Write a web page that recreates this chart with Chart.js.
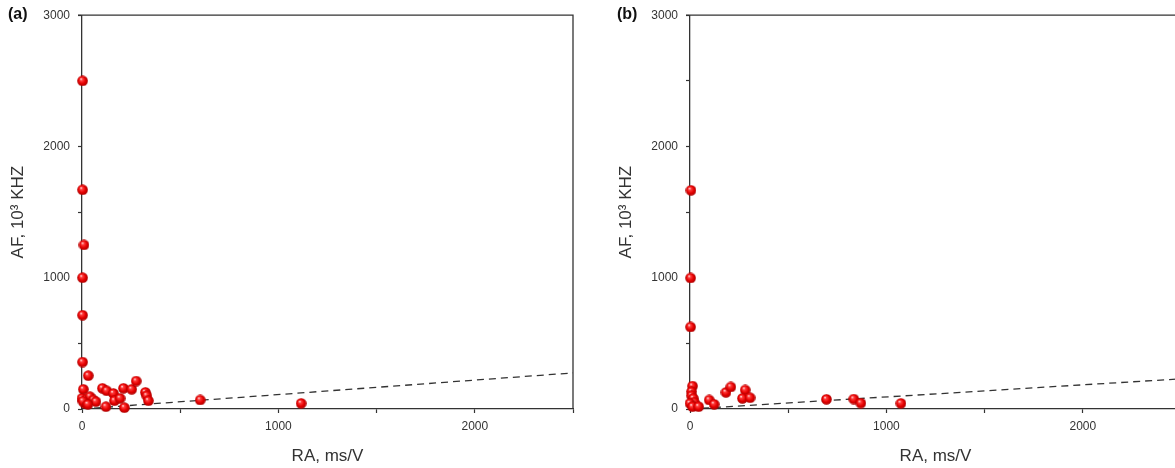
<!DOCTYPE html>
<html>
<head>
<meta charset="utf-8">
<script src="https://cdn.jsdelivr.net/npm/chart.js@4"></script>
<style>
  html, body { margin: 0; padding: 0; background: #fff; overflow: hidden; width: 1175px; height: 468px; }
  .panel { position: absolute; top: 0; width: 600px; height: 468px; }
  .tag { position: absolute; top: 5px; font: bold 16px Arial, "Liberation Sans", sans-serif; color: #111; }
</style>
</head>
<body>
<div class="panel" style="left:0px"><canvas id="chartA" width="600" height="468"></canvas></div>
<div class="panel" style="left:608px"><canvas id="chartB" width="600" height="468"></canvas></div>
<span class="tag" style="left:8px">(a)</span>
<span class="tag" style="left:617px">(b)</span>
<script>
// panel (a) points
const raA = [3, 3, 10, 3, 3, 3, 32, 7, 104, 126, 160, 211, 253, 276, 323, 330, 338, 122, 216, 165, 194, 602, 1116, 0, 24, 41, 58, 71, 15, 5, 30];
const afA = [2500, 1670, 1250, 1000, 715, 358, 254, 150, 158, 139, 119, 158, 150, 213, 127, 101, 63, 18, 10, 63, 81, 69, 43, 81, 74, 94, 69, 56, 43, 60, 35];

// panel (b) points
const raB = [5, 3, 3, 13, 8, 8, 17, 22, 0, 13, 44, 98, 123, 183, 208, 281, 267, 306, 695, 834, 870, 1074];
const afB = [1666, 998, 625, 175, 132, 101, 81, 51, 43, 18, 18, 69, 36, 127, 168, 145, 81, 86, 74, 76, 45, 43];

// dashed fit lines (two end points each)
const fitXA = [0, 2500];
const fitYA = [0, 275];
const fitXB = [0, 2500];
const fitYB = [0, 230];

const axisTicks = [0, 500, 1000, 1500, 2000, 2500, 3000];

const fontName = 'Arial, "Liberation Sans", sans-serif';
const axisColor = '#333';

// red ball used as the point style
function makeBall() {
  const c = document.createElement('canvas');
  c.width = 11; c.height = 11;
  const g = c.getContext('2d');
  const grad = g.createRadialGradient(4, 3.6, 0.3, 5.5, 5.5, 5.6);
  grad.addColorStop(0, '#ffe0e0');
  grad.addColorStop(0.2, '#ff4040');
  grad.addColorStop(0.6, '#e60000');
  grad.addColorStop(1, '#a30000');
  g.fillStyle = grad;
  g.beginPath();
  g.arc(5.5, 5.5, 5.3, 0, Math.PI * 2);
  g.fill();
  return c;
}
const ball = makeBall();

// top and right frame lines
const framePlugin = {
  id: 'frame',
  afterDraw(chart) {
    const a = chart.chartArea;
    const ctx = chart.ctx;
    ctx.save();
    ctx.strokeStyle = axisColor;
    ctx.lineWidth = 1.3;
    ctx.beginPath();
    ctx.moveTo(a.left - 4, a.top);
    ctx.lineTo(a.right, a.top);
    ctx.lineTo(a.right, a.bottom);
    ctx.stroke();
    ctx.restore();
  }
};

function makePanel(id, ra, af, fitX, fitY) {
  const pts = ra.map((x, i) => ({x: x, y: af[i]}));
  const fit = fitX.map((x, i) => ({x: x, y: fitY[i]}));
  return new Chart(document.getElementById(id), {
    type: 'scatter',
    data: {
      datasets: [
        {
          data: pts,
          pointStyle: ball,
          pointRadius: 5,
          clip: false,
          order: 0
        },
        {
          type: 'line',
          data: fit,
          borderColor: '#333',
          borderWidth: 1.3,
          borderDash: [7, 5],
          pointRadius: 0,
          fill: false,
          order: 1
        }
      ]
    },
    options: {
      responsive: false,
      animation: false,
      layout: { padding: { left: 0, right: 27, top: 15, bottom: 0 } },
      plugins: { legend: { display: false }, tooltip: { enabled: false } },
      scales: {
        x: {
          type: 'linear',
          min: 0,
          max: 2500,
          afterFit(scale) { scale.height = 59; },
          afterBuildTicks(scale) { scale.ticks = axisTicks.filter(v => v <= 2500).map(v => ({value: v})); },
          grid: { display: true, drawOnChartArea: false, drawTicks: true, tickLength: 4, tickColor: axisColor, tickWidth: 1.2 },
          border: { display: true, color: axisColor, width: 1.3 },
          ticks: {
            padding: 6,
            color: '#333',
            font: { family: fontName, size: 12 },
            maxRotation: 0,
            autoSkip: false,
            callback: v => (v % 1000 === 0 ? v : '')
          },
          title: { display: true, text: 'RA, ms/V', color: '#333', font: { family: fontName, size: 17 }, padding: { top: 0, bottom: 1 } }
        },
        y: {
          type: 'linear',
          min: 0,
          max: 3000,
          afterFit(scale) { scale.width = 82; },
          afterBuildTicks(scale) { scale.ticks = axisTicks.map(v => ({value: v})); },
          grid: { display: true, drawOnChartArea: false, drawTicks: true, tickLength: 4, tickColor: axisColor, tickWidth: 1.2 },
          border: { display: true, color: axisColor, width: 1.3 },
          ticks: {
            padding: 8,
            color: '#333',
            font: { family: fontName, size: 12 },
            autoSkip: false,
            callback: v => (v % 1000 === 0 ? v : '')
          },
          title: { display: true, text: 'AF, 10³ KHZ', color: '#333', font: { family: fontName, size: 17 }, padding: { top: 8, bottom: 0 } }
        }
      }
    },
    plugins: [framePlugin]
  });
}

makePanel('chartA', raA, afA, fitXA, fitYA);
makePanel('chartB', raB, afB, fitXB, fitYB);
</script>
</body>
</html>
